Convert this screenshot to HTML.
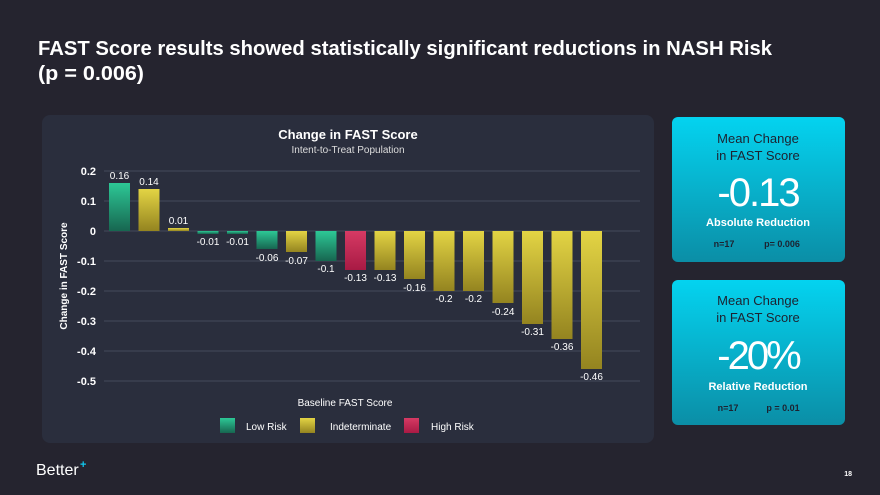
<!DOCTYPE html>
<html><head><meta charset="utf-8"><style>
html,body{margin:0;padding:0;background:#25242f;}
svg{display:block;font-family:"Liberation Sans",sans-serif;}
</style></head><body>
<svg width="880" height="495" viewBox="0 0 880 495" xmlns="http://www.w3.org/2000/svg">
<defs>
<linearGradient id="g" x1="0" y1="0" x2="0" y2="1"><stop offset="0" stop-color="#2dc896"/><stop offset="1" stop-color="#176650"/></linearGradient>
<linearGradient id="y" x1="0" y1="0" x2="0" y2="1"><stop offset="0" stop-color="#e3d444"/><stop offset="1" stop-color="#948420"/></linearGradient>
<linearGradient id="r" x1="0" y1="0" x2="0" y2="1"><stop offset="0" stop-color="#d63a64"/><stop offset="1" stop-color="#a81a44"/></linearGradient>
<linearGradient id="c" x1="0" y1="0" x2="0" y2="1"><stop offset="0" stop-color="#04d3f0"/><stop offset="1" stop-color="#0b8ea6"/></linearGradient>
</defs>
<rect width="880" height="495" fill="#25242f"/>
<text x="38" y="55" fill="#fff" font-size="20" font-weight="bold" textLength="734" lengthAdjust="spacingAndGlyphs">FAST Score results showed statistically significant reductions in NASH Risk</text>
<text x="38" y="80" fill="#fff" font-size="20" font-weight="bold" textLength="106" lengthAdjust="spacingAndGlyphs">(p = 0.006)</text>

<rect x="42" y="115" width="612" height="328" rx="8" fill="#2a2e3d"/>
<text x="348" y="139" fill="#fff" font-size="13" font-weight="bold" text-anchor="middle">Change in FAST Score</text>
<text x="348" y="153" fill="#ddd" font-size="10" text-anchor="middle">Intent-to-Treat Population</text>

<g stroke="#444a5a" stroke-width="1">
<line x1="104" y1="171" x2="640" y2="171"/><line x1="104" y1="201" x2="640" y2="201"/>
<line x1="104" y1="231" x2="640" y2="231"/><line x1="104" y1="261" x2="640" y2="261"/>
<line x1="104" y1="291" x2="640" y2="291"/><line x1="104" y1="321" x2="640" y2="321"/>
<line x1="104" y1="351" x2="640" y2="351"/><line x1="104" y1="381" x2="640" y2="381"/>
</g>
<g fill="#fff" font-size="11" font-weight="bold" text-anchor="end">
<text x="96" y="175">0.2</text><text x="96" y="205">0.1</text><text x="96" y="235">0</text>
<text x="96" y="265">-0.1</text><text x="96" y="295">-0.2</text><text x="96" y="325">-0.3</text>
<text x="96" y="355">-0.4</text><text x="96" y="385">-0.5</text>
</g>
<text transform="translate(67,276) rotate(-90)" fill="#fff" font-size="10" font-weight="bold" text-anchor="middle">Change in FAST Score</text>

<g>
<rect x="109" y="183" width="21" height="48" fill="url(#g)"/>
<rect x="138.5" y="189" width="21" height="42" fill="url(#y)"/>
<rect x="168" y="228" width="21" height="3" fill="url(#y)"/>
<rect x="197.5" y="231" width="21" height="3" fill="url(#g)"/>
<rect x="227" y="231" width="21" height="3" fill="url(#g)"/>
<rect x="256.5" y="231" width="21" height="18" fill="url(#g)"/>
<rect x="286" y="231" width="21" height="21" fill="url(#y)"/>
<rect x="315.5" y="231" width="21" height="30" fill="url(#g)"/>
<rect x="345" y="231" width="21" height="39" fill="url(#r)"/>
<rect x="374.5" y="231" width="21" height="39" fill="url(#y)"/>
<rect x="404" y="231" width="21" height="48" fill="url(#y)"/>
<rect x="433.5" y="231" width="21" height="60" fill="url(#y)"/>
<rect x="463" y="231" width="21" height="60" fill="url(#y)"/>
<rect x="492.5" y="231" width="21" height="72" fill="url(#y)"/>
<rect x="522" y="231" width="21" height="93" fill="url(#y)"/>
<rect x="551.5" y="231" width="21" height="108" fill="url(#y)"/>
<rect x="581" y="231" width="21" height="138" fill="url(#y)"/>
</g>
<g fill="#fff" font-size="10" text-anchor="middle">
<text x="119.5" y="179">0.16</text><text x="149" y="185">0.14</text><text x="178.5" y="224">0.01</text>
<text x="208" y="245">-0.01</text><text x="237.5" y="245">-0.01</text><text x="267" y="261">-0.06</text>
<text x="296.5" y="264">-0.07</text><text x="326" y="272">-0.1</text><text x="355.5" y="281">-0.13</text>
<text x="385" y="281">-0.13</text><text x="414.5" y="291">-0.16</text><text x="444" y="302">-0.2</text>
<text x="473.5" y="302">-0.2</text><text x="503" y="315">-0.24</text><text x="532.5" y="335">-0.31</text>
<text x="562" y="350">-0.36</text><text x="591.5" y="380">-0.46</text>
</g>
<text x="345" y="406" fill="#fff" font-size="10" text-anchor="middle">Baseline FAST Score</text>
<rect x="220" y="418" width="15" height="15" fill="url(#g)"/>
<text x="246" y="430" fill="#fff" font-size="10">Low Risk</text>
<rect x="300" y="418" width="15" height="15" fill="url(#y)"/>
<text x="330" y="430" fill="#fff" font-size="10">Indeterminate</text>
<rect x="404" y="418" width="15" height="15" fill="url(#r)"/>
<text x="431" y="430" fill="#fff" font-size="10">High Risk</text>

<rect x="672" y="117" width="173" height="145" rx="6" fill="url(#c)"/>
<text x="758" y="143" fill="#1d2230" font-size="13" text-anchor="middle">Mean Change</text>
<text x="758" y="160" fill="#1d2230" font-size="13" text-anchor="middle">in FAST Score</text>
<text x="758" y="206" fill="#fff" font-size="40" text-anchor="middle" letter-spacing="-2">-0.13</text>
<text x="758" y="226" fill="#fff" font-size="11" font-weight="bold" text-anchor="middle">Absolute Reduction</text>
<text x="724" y="247" fill="#1d2230" font-size="9" font-weight="bold" text-anchor="middle">n=17</text>
<text x="782" y="247" fill="#1d2230" font-size="9" font-weight="bold" text-anchor="middle">p= 0.006</text>

<rect x="672" y="280" width="173" height="145" rx="6" fill="url(#c)"/>
<text x="758" y="305" fill="#1d2230" font-size="13" text-anchor="middle">Mean Change</text>
<text x="758" y="322" fill="#1d2230" font-size="13" text-anchor="middle">in FAST Score</text>
<text x="758" y="369" fill="#fff" font-size="40" text-anchor="middle" letter-spacing="-3">-20%</text>
<text x="758" y="390" fill="#fff" font-size="11" font-weight="bold" text-anchor="middle">Relative Reduction</text>
<text x="728" y="411" fill="#1d2230" font-size="9" font-weight="bold" text-anchor="middle">n=17</text>
<text x="783" y="411" fill="#1d2230" font-size="9" font-weight="bold" text-anchor="middle">p = 0.01</text>

<text x="36" y="475" fill="#fff" font-size="16">Better</text>
<text x="80" y="468" fill="#10c8ee" font-size="11" font-weight="bold">+</text>
<text x="852" y="476" fill="#fff" font-size="7" font-weight="bold" text-anchor="end">18</text>
</svg>
</body></html>
